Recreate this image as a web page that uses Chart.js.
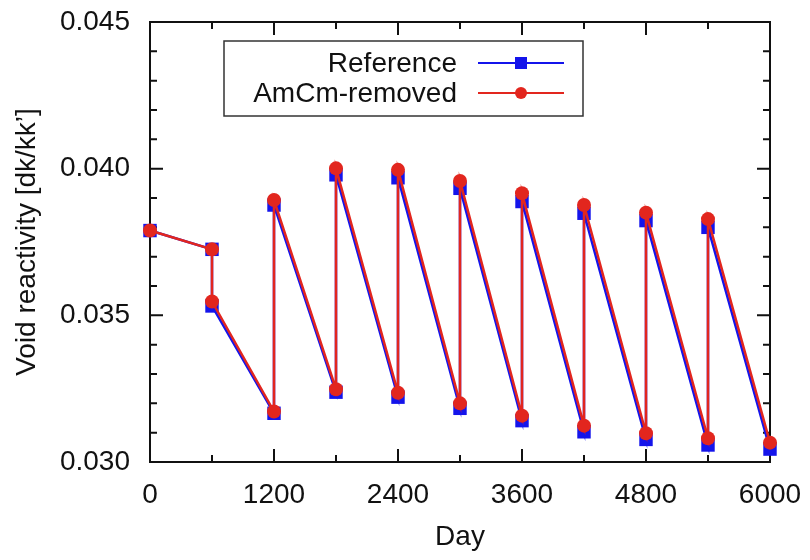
<!DOCTYPE html>
<html>
<head>
<meta charset="utf-8">
<script src="https://cdn.jsdelivr.net/npm/chart.js@4"></script>
<style>
  html, body { margin: 0; padding: 0; background: #fff; }
  #wrap { width: 810px; height: 560px; }
</style>
</head>
<body>
<div id="wrap"><canvas id="voidChart" width="810" height="560"></canvas></div>
<script>
// days (each reload step appears twice: before / after)
const days = [0, 600, 600, 1200, 1200, 1800, 1800, 2400, 2400, 3000, 3000,
              3600, 3600, 4200, 4200, 4800, 4800, 5400, 5400, 6000];
const reference = [0.03789, 0.03725, 0.03532, 0.03166, 0.03876, 0.03238, 0.03979,
                   0.03221, 0.03969, 0.03183, 0.03933, 0.03141, 0.03888, 0.03103,
                   0.03848, 0.03077, 0.03823, 0.03058, 0.03800, 0.03044];
const amcmRemoved = [0.03789, 0.03725, 0.03547, 0.03172, 0.03893, 0.03248, 0.04001,
                     0.03236, 0.03996, 0.03200, 0.03958, 0.03158, 0.03916, 0.03124,
                     0.03876, 0.03098, 0.03850, 0.03081, 0.03828, 0.03066];
const seriesNames = ['Reference', 'AmCm-removed'];
const xTicks = [0, 1200, 2400, 3600, 4800, 6000];
const yTicks = [0.030, 0.035, 0.040, 0.045];

const BLUE = 'rgb(20,20,235)';
const RED = 'rgb(226,38,30)';
const FONT = '"Liberation Sans", Arial, sans-serif';

function toPoints(ys) {
  return days.map((d, i) => ({ x: d, y: ys[i] }));
}

// gnuplot-like frame with inward major/minor ticks on all four sides
const framePlugin = {
  id: 'frame',
  beforeDatasetsDraw(chart) {
    const { ctx, chartArea: a, scales } = chart;
    ctx.save();
    ctx.strokeStyle = '#111';
    ctx.lineWidth = 2;
    ctx.beginPath();
    for (let v = 0; v <= 6000; v += 600) {
      const px = scales.x.getPixelForValue(v);
      const len = v % 1200 === 0 ? 13 : 7;
      ctx.moveTo(px, a.bottom); ctx.lineTo(px, a.bottom - len);
      ctx.moveTo(px, a.top); ctx.lineTo(px, a.top + len);
    }
    for (let k = 30; k <= 45; k++) {
      const py = scales.y.getPixelForValue(k / 1000);
      const len = k % 5 === 0 ? 13 : 7;
      ctx.moveTo(a.left, py); ctx.lineTo(a.left + len, py);
      ctx.moveTo(a.right, py); ctx.lineTo(a.right - len, py);
    }
    ctx.stroke();
    ctx.strokeRect(a.left, a.top, a.right - a.left, a.bottom - a.top);
    ctx.restore();
  }
};

// boxed legend, text right-aligned with the sample on the right
const legendBox = {
  id: 'legendBox',
  afterDraw(chart) {
    const { ctx } = chart;
    ctx.save();
    ctx.fillStyle = '#fff';
    ctx.fillRect(224, 41, 359, 75);
    ctx.strokeStyle = '#333';
    ctx.lineWidth = 1.5;
    ctx.strokeRect(224, 41, 359, 75);
    ctx.font = '28px ' + FONT;
    ctx.textAlign = 'right';
    ctx.textBaseline = 'middle';
    const rows = [63, 93];
    chart.data.datasets.forEach((ds, i) => {
      const y = rows[i];
      ctx.fillStyle = '#111';
      ctx.fillText(ds.label, 457, y + 1);
      ctx.strokeStyle = ds.borderColor;
      ctx.lineWidth = 2;
      ctx.beginPath();
      ctx.moveTo(478, y); ctx.lineTo(564, y);
      ctx.stroke();
      ctx.fillStyle = ds.pointBackgroundColor;
      ctx.beginPath();
      if (ds.pointStyle === 'rect') {
        ctx.rect(521 - 6, y - 6, 12, 12);
      } else {
        ctx.arc(521, y, 6, 0, Math.PI * 2);
      }
      ctx.fill();
    });
    ctx.restore();
  }
};

new Chart(document.getElementById('voidChart'), {
  type: 'scatter',
  data: {
    datasets: [
      {
        label: seriesNames[0],
        data: toPoints(reference),
        showLine: true,
        borderColor: BLUE,
        borderWidth: 2.5,
        pointStyle: 'rect',
        pointRadius: 9.5,
        pointBackgroundColor: BLUE,
        pointBorderWidth: 0,
        clip: false,
        order: 2
      },
      {
        label: seriesNames[1],
        data: toPoints(amcmRemoved),
        showLine: true,
        borderColor: RED,
        borderWidth: 2.5,
        pointStyle: 'circle',
        pointRadius: 7,
        pointBackgroundColor: RED,
        pointBorderWidth: 0,
        clip: false,
        order: 1
      }
    ]
  },
  options: {
    responsive: false,
    animation: false,
    layout: { padding: { left: 0, top: 22, right: 40, bottom: 0 } },
    plugins: {
      legend: { display: false },
      tooltip: { enabled: false }
    },
    scales: {
      x: {
        type: 'linear',
        min: 0,
        max: 6000,
        afterFit(scale) {
          scale.height = 98;
          scale.paddingLeft = 0;
          scale.paddingRight = 0;
        },
        afterBuildTicks(scale) { scale.ticks = xTicks.map(v => ({ value: v })); },
        grid: { display: false, drawTicks: false },
        border: { display: false },
        ticks: {
          color: '#111',
          font: { family: FONT, size: 28 },
          padding: 16,
          maxRotation: 0,
          autoSkip: false,
          callback: v => String(v)
        },
        title: {
          display: true,
          text: 'Day',
          color: '#111',
          font: { family: FONT, size: 28 },
          padding: { top: 0, bottom: 6 }
        }
      },
      y: {
        type: 'linear',
        min: 0.030,
        max: 0.045,
        afterFit(scale) {
          scale.width = 150;
          scale.paddingTop = 0;
          scale.paddingBottom = 0;
        },
        afterBuildTicks(scale) { scale.ticks = yTicks.map(v => ({ value: v })); },
        grid: { display: false, drawTicks: false },
        border: { display: false },
        ticks: {
          color: '#111',
          font: { family: FONT, size: 28 },
          padding: 20,
          callback: v => v.toFixed(3)
        },
        title: {
          display: true,
          text: 'Void reactivity [dk/kk\u2019]',
          color: '#111',
          font: { family: FONT, size: 28 },
          padding: { top: 10, bottom: 0 }
        }
      }
    }
  },
  plugins: [framePlugin, legendBox]
});
</script>
</body>
</html>
